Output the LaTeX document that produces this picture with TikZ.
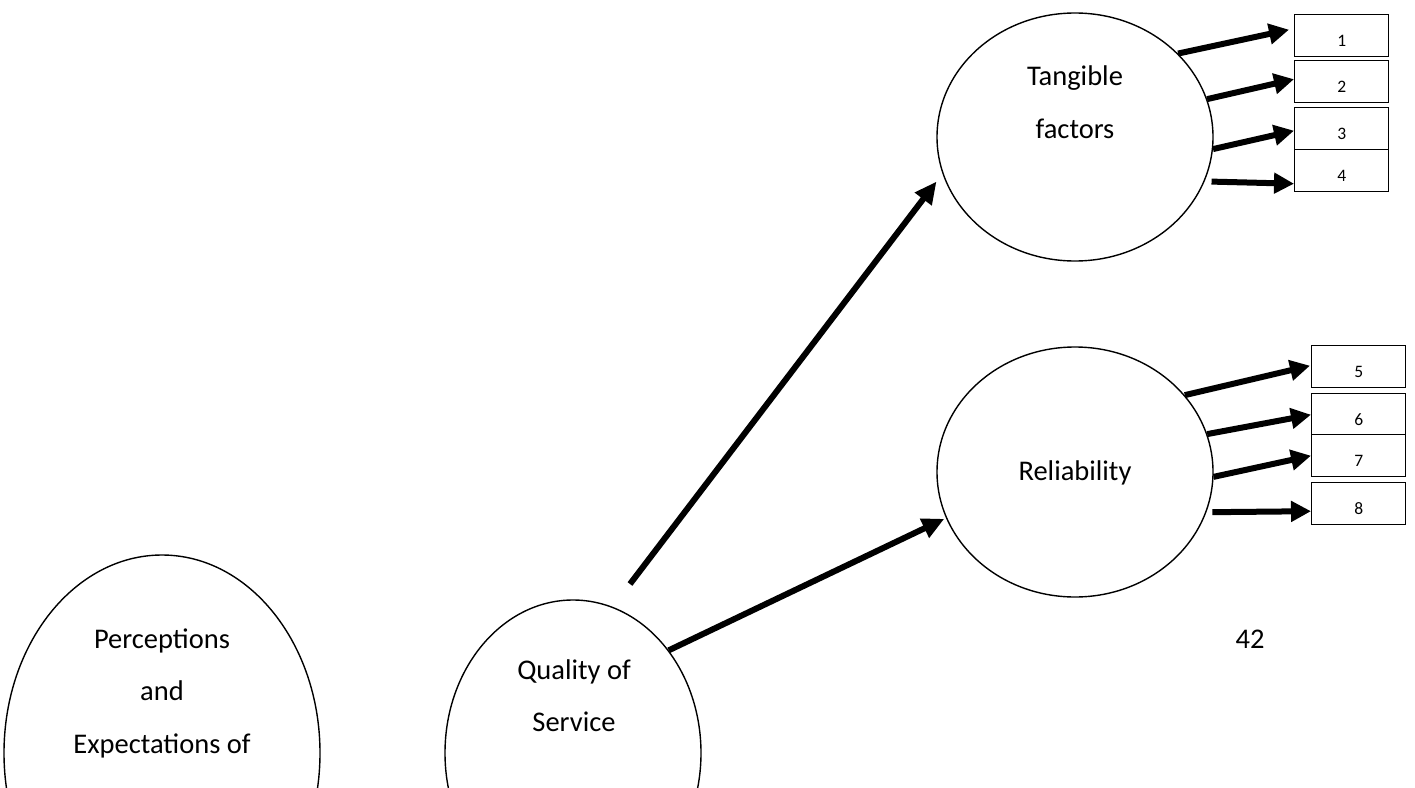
\documentclass[tikz,border=0pt]{standalone}
\usepackage{fontspec}
\setmainfont{Carlito}
\usetikzlibrary{shapes.geometric,arrows.meta}
\begin{document}
\begin{tikzpicture}[x=1pt,y=-1pt,
  oval/.style={draw,ellipse,line width=1.4pt,inner sep=0pt},
  lbl/.style={anchor=base,inner sep=0pt,font=\fontsize{28.5}{34}\selectfont},
  numbox/.style={draw,fill=white,line width=1.4pt,minimum width=94pt,minimum height=42pt,inner sep=0pt,anchor=north west,text height=22pt,text depth=0pt,font=\fontsize{17.5}{20}\selectfont},
  bigarrow/.style={line width=6pt,-{Triangle[length=22pt,width=20pt]}},
  smallarrow/.style={line width=6pt,-{Triangle[length=20pt,width=20pt]}}]
\useasboundingbox (0,0) rectangle (1415,787);
\fill[white] (0,0) rectangle (1415,787);
\clip (0,0) rectangle (1415,787);

% ellipses
\node[oval,minimum width=316pt,minimum height=396pt] (perc) at (162,753) {};
\node[oval,minimum width=256pt,minimum height=306pt] (qual) at (573,753) {};
\node[oval,minimum width=276pt,minimum height=248pt] (tang) at (1075,137) {};
\node[oval,minimum width=276pt,minimum height=250pt] (reli) at (1075,472) {};

% texts
\node[lbl] (percA) at (162,648) {Perceptions};
\node[lbl] (percB) at (162,700) {and};
\node[lbl] (percC) at (162,753) {Expectations of};
\node[lbl] (qualA) at (574,679) {Quality of};
\node[lbl] (qualB) at (574,731) {Service};
\node[lbl] (tangA) at (1075,85) {Tangible};
\node[lbl] (tangB) at (1075,138) {factors};
\node[lbl] (reliA) at (1075,480) {Reliability};
\node[lbl] (page) at (1250,648) {42};

% boxes
\node[numbox] (b1) at (1294,14) {1};
\node[numbox] (b2) at (1294,60) {2};
\node[numbox] (b3) at (1294,107) {3};
\node[numbox] (b4) at (1294,149) {4};
\node[numbox] (b5) at (1311,345) {5};
\node[numbox] (b6) at (1311,393) {6};
\node[numbox] (b7) at (1311,434) {7};
\node[numbox] (b8) at (1311,482) {8};

% big arrows
\coordinate (s1) at (630,584);
\draw[bigarrow] (s1) -- ([xshift=-9pt]tang.199);
\draw[bigarrow] (qual.47) -- ([xshift=-2pt]reli.200);

% small arrows
\draw[smallarrow] (tang.39.5) -- ([xshift=-5pt,yshift=6pt]b1.west);
\draw[smallarrow] (tang.16.5) -- ([yshift=2.5pt]b2.west);
\draw[smallarrow] (tang.-5.4) -- ([yshift=-2pt]b3.west);
\draw[smallarrow] ([xshift=7pt]tang.-19.5) -- ([yshift=-13pt]b4.west);
\draw[smallarrow] (reli.35.8) -- ([xshift=-1pt,yshift=1pt]b5.west);
\draw[smallarrow] (reli.16.8) -- (b6.west);
\draw[smallarrow] (reli.-2.1) -- (b7.west);
\draw[smallarrow] ([xshift=6pt]reli.-17.5) -- ([yshift=-7.5pt]b8.west);
\end{tikzpicture}
\end{document}
